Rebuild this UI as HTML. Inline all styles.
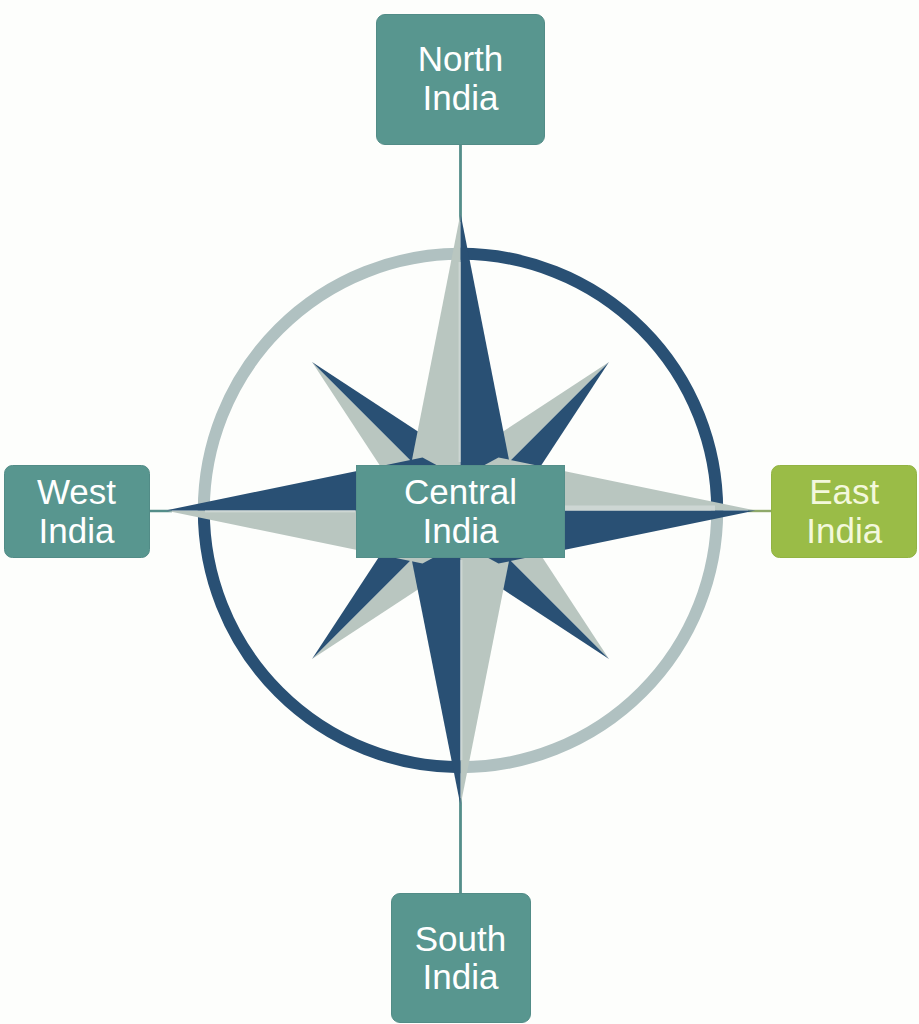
<!DOCTYPE html>
<html><head><meta charset="utf-8"><style>
html,body{margin:0;padding:0;background:#fdfefc;}
body{width:919px;height:1024px;overflow:hidden;position:relative;}
svg{position:absolute;left:0;top:0;}
text{font-family:"Liberation Sans",sans-serif;font-size:35px;text-anchor:middle;}
</style></head><body>
<svg width="919" height="1024" viewBox="0 0 919 1024">
<rect x="0" y="0" width="919" height="1024" fill="#fdfefc"/>
<line x1="460.5" y1="140" x2="460.5" y2="222" stroke="#548e89" stroke-width="2.8"/>
<line x1="460.5" y1="798" x2="460.5" y2="897" stroke="#548e89" stroke-width="2.8"/>
<line x1="145" y1="511" x2="172" y2="511" stroke="#548e89" stroke-width="2.5"/>
<line x1="748" y1="511" x2="775" y2="511" stroke="#8fa96a" stroke-width="2.4"/>
<path d="M460.50,253.80 A256.7,256.7 0 0 1 717.20,510.50" fill="none" stroke="#295074" stroke-width="12.0"/>
<path d="M717.20,510.50 A256.7,256.7 0 0 1 460.50,767.20" fill="none" stroke="#b0c1c1" stroke-width="12.0"/>
<path d="M460.50,767.20 A256.7,256.7 0 0 1 203.80,510.50" fill="none" stroke="#295074" stroke-width="12.0"/>
<path d="M203.80,510.50 A256.7,256.7 0 0 1 460.50,253.80" fill="none" stroke="#b0c1c1" stroke-width="12.0"/>
<polygon points="608.99,362.01 463.82,457.25 460.50,510.50" fill="#b9c6c0"/><polygon points="608.99,362.01 513.75,507.18 460.50,510.50" fill="#295074"/>
<polygon points="608.99,658.99 513.75,513.82 460.50,510.50" fill="#b9c6c0"/><polygon points="608.99,658.99 463.82,563.75 460.50,510.50" fill="#295074"/>
<polygon points="312.01,658.99 457.18,563.75 460.50,510.50" fill="#b9c6c0"/><polygon points="312.01,658.99 407.25,513.82 460.50,510.50" fill="#295074"/>
<polygon points="312.01,362.01 407.25,507.18 460.50,510.50" fill="#b9c6c0"/><polygon points="312.01,362.01 457.18,457.25 460.50,510.50" fill="#295074"/>
<polygon points="460.50,213.50 409.50,472.50 428.00,510.50 460.50,510.50" fill="#b9c6c0"/><polygon points="460.50,213.50 511.50,472.50 493.00,510.50 460.50,510.50" fill="#295074"/>
<polygon points="460.50,805.50 511.50,548.50 493.00,510.50 460.50,510.50" fill="#b9c6c0"/><polygon points="460.50,805.50 409.50,548.50 428.00,510.50 460.50,510.50" fill="#295074"/>
<polygon points="755.50,510.50 498.50,457.50 460.50,478.00 460.50,510.50" fill="#b9c6c0"/><polygon points="755.50,510.50 498.50,563.50 460.50,543.00 460.50,510.50" fill="#295074"/>
<polygon points="165.50,510.50 422.50,563.50 460.50,543.00 460.50,510.50" fill="#b9c6c0"/><polygon points="165.50,510.50 422.50,457.50 460.50,478.00 460.50,510.50" fill="#295074"/>
<rect x="458.6" y="262" width="1.9" height="200" fill="#cdd6d3"/>
<rect x="460.5" y="560" width="1.9" height="200" fill="#cdd6d3"/>
<rect x="565" y="505.5" width="150" height="5" fill="#cdd6d3"/>
<rect x="205" y="510.5" width="150" height="1.9" fill="#cdd6d3"/>
<rect x="376.5" y="14.5" width="168" height="130" rx="8.5" fill="#58968f" stroke="#528c87" stroke-width="1"/>
<rect x="4.5" y="465.5" width="145" height="92" rx="8" fill="#58968f" stroke="#528c87" stroke-width="1"/>
<rect x="771.5" y="465.5" width="145" height="92" rx="8" fill="#9abc47" stroke="#92b343" stroke-width="1"/>
<rect x="356.5" y="465.5" width="208" height="92" fill="#58968f" stroke="#558f8a" stroke-width="1"/>
<rect x="391.5" y="893.5" width="139" height="129" rx="8.5" fill="#58968f" stroke="#528c87" stroke-width="1"/>
<g fill="#ffffff">
<text x="460.5" y="70.7">North</text><text x="460.5" y="109.7">India</text>
<text x="76.5" y="503.5">West</text><text x="76.5" y="542.7">India</text>
<text x="460.5" y="503.5">Central</text><text x="460.5" y="542.5">India</text>
<text x="460.5" y="950.5">South</text><text x="460.5" y="989">India</text>
</g>
<g fill="#f3f8dc">
<text x="844.2" y="503.5">East</text><text x="844.2" y="542.7">India</text>
</g>
</svg>
</body></html>
